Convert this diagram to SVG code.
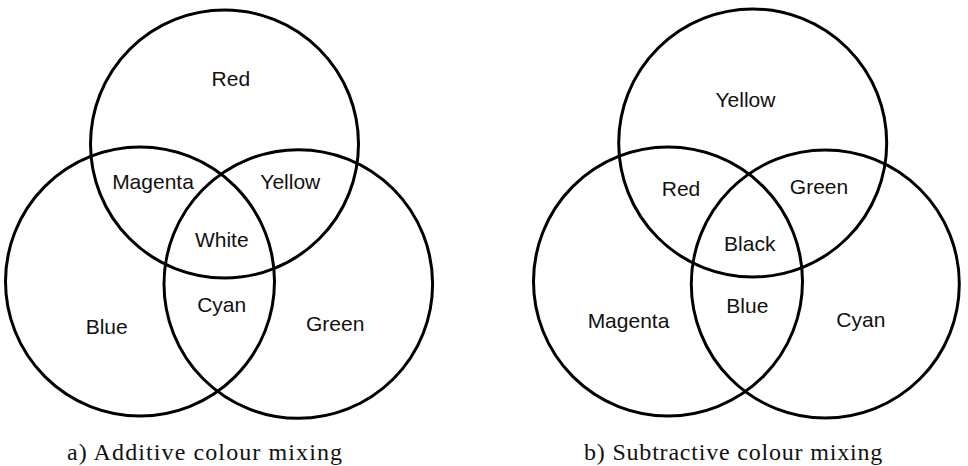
<svg xmlns="http://www.w3.org/2000/svg" width="968" height="466" viewBox="0 0 968 466">
<style>
.c{fill:none;stroke:#000;stroke-width:3}
.l{font-family:"Liberation Sans",Arial,sans-serif;font-size:21px;fill:#111;text-anchor:middle}
.cap{font-family:"Liberation Serif","Times New Roman",serif;font-size:24px;fill:#111;letter-spacing:0.8px}
</style>
<rect width="968" height="466" fill="#fff"/>
<g id="additive">
<g id="a-red"><circle class="c" cx="224.5" cy="144" r="134"/><text class="l" x="230.8" y="86">Red</text></g>
<g id="a-blue"><circle class="c" cx="140" cy="281.5" r="134.5"/><text class="l" x="106.7" y="334.3">Blue</text></g>
<g id="a-green"><circle class="c" cx="298.3" cy="284" r="134.3"/><text class="l" x="335.2" y="331">Green</text></g>
<g id="a-magenta"><text class="l" x="153" y="188.5">Magenta</text></g>
<g id="a-yellow"><text class="l" x="290.3" y="189.3">Yellow</text></g>
<g id="a-white"><text class="l" x="221.8" y="246.7">White</text></g>
<g id="a-cyan"><text class="l" x="221.7" y="311.7">Cyan</text></g>
<text class="cap" x="67" y="460" style="letter-spacing:1.1px">a) Additive colour mixing</text>
</g>
<g id="subtractive">
<g id="s-yellow"><circle class="c" cx="752.7" cy="143" r="134"/><text class="l" x="745.5" y="107.3">Yellow</text></g>
<g id="s-magenta"><circle class="c" cx="668" cy="281.5" r="134.5"/><text class="l" x="628.5" y="328.3">Magenta</text></g>
<g id="s-cyan"><circle class="c" cx="825.3" cy="284" r="134"/><text class="l" x="860.8" y="327.3">Cyan</text></g>
<g id="s-red"><text class="l" x="681" y="195.7">Red</text></g>
<g id="s-green"><text class="l" x="819" y="194">Green</text></g>
<g id="s-black"><text class="l" x="749.8" y="250.7">Black</text></g>
<g id="s-blue"><text class="l" x="747.3" y="313.3">Blue</text></g>
<text class="cap" x="584" y="460">b) Subtractive colour mixing</text>
</g>
<g id="connectors"></g>
</svg>
